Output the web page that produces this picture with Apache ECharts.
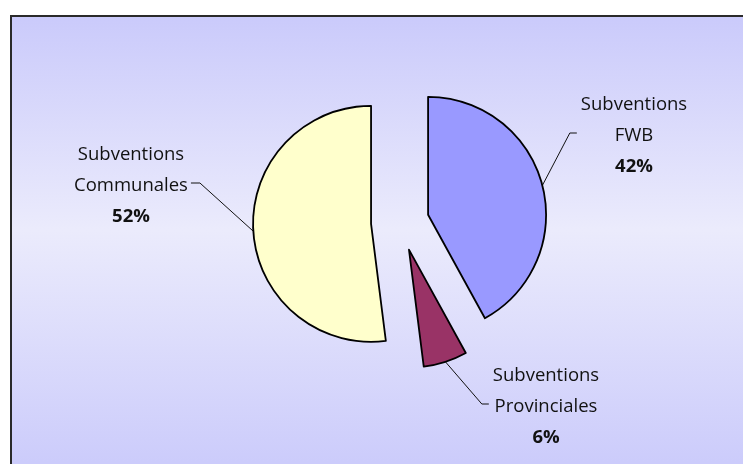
<!DOCTYPE html>
<html>
<head>
<meta charset="utf-8">
<script src="https://cdn.jsdelivr.net/npm/echarts@6/dist/echarts.min.js"></script>
<style>
html,body{margin:0;padding:0;background:#fff;}
#c{width:743px;height:464px;}
</style>
</head>
<body>
<div id="c"></div>
<script>
// ---- data ----
const categories = ['Subventions\nFWB', 'Subventions\nProvinciales', 'Subventions\nCommunales'];
const values = [42, 6, 52];
const colors = ['#9999FF', '#993366', '#FFFFCC'];

// ---- layout (positions only) ----
const pieCenter = [400, 222];
const pieRadius = 118;
const explode = 29;
const labelCenters = [[634, 136], [546, 407], [131, 186]];

const chart = echarts.init(document.getElementById('c'), null, {renderer: 'canvas'});
const total = values.reduce((a, b) => a + b, 0);

let cum = 0;
const series = values.map((v, i) => {
  const theta = (cum + v / 2) / total * 2 * Math.PI; // clockwise from top
  cum += v;
  const c = [pieCenter[0] + explode * Math.sin(theta), pieCenter[1] - explode * Math.cos(theta)];
  return {
    type: 'pie',
    center: c,
    radius: pieRadius,
    startAngle: 90,
    clockwise: true,
    silent: true,
    animation: false,
    avoidLabelOverlap: false,
    emphasis: {disabled: true},
    data: values.map((vv, j) => ({
      name: categories[j],
      value: vv,
      itemStyle: j === i
        ? {color: colors[j], borderColor: '#000', borderWidth: 1.8}
        : {color: 'rgba(0,0,0,0)', borderWidth: 0},
      label: {show: j === i},
      labelLine: {show: j === i}
    })),
    label: {
      position: 'outside',
      formatter: p => p.name.split('\n').map(s => '{n|' + s + '}').join('\n') + '\n{p|' + Math.round(p.percent) + '%}',
      rich: {
        n: {fontFamily: 'Open Sans', fontSize: 18.5, color: '#111', lineHeight: 31, align: 'center'},
        p: {fontFamily: 'Open Sans', fontSize: 18.5, fontWeight: 'bold', color: '#111', lineHeight: 31, align: 'center'}
      }
    },
    labelLine: {
      lineStyle: {color: '#111', width: 1}
    },
    labelLayout: function (params) {
      if (params.dataIndex !== i) return {};
      const lc = labelCenters[i];
      const w = params.labelRect.width;
      const start = params.labelLinePoints ? params.labelLinePoints[0] : null;
      const out = {x: lc[0], y: lc[1], align: 'center', verticalAlign: 'middle'};
      if (start) {
        const right = start[0] > lc[0];
        const ey = lc[1] - 3;
        const ex = right ? lc[0] + w / 2 + 3 : lc[0] - w / 2 - 4;
        const bx = right ? ex + 9 : ex - 7;
        out.labelLinePoints = [start, [bx, ey], [ex, ey]];
      }
      return out;
    }
  };
});

chart.setOption({
  animation: false,
  graphic: {
    elements: [{
      type: 'rect',
      z: -10,
      silent: true,
      shape: {x: 11, y: 16, width: 740, height: 460},
      style: {
        fill: new echarts.graphic.LinearGradient(0, 0, 0, 1, [
          {offset: 0, color: '#CACAFB'},
          {offset: 0.465, color: '#EBEBFC'},
          {offset: 1, color: '#CACAFB'}
        ]),
        stroke: '#2a2a2a',
        lineWidth: 2
      }
    }]
  },
  series: series
});
</script>
</body>
</html>
